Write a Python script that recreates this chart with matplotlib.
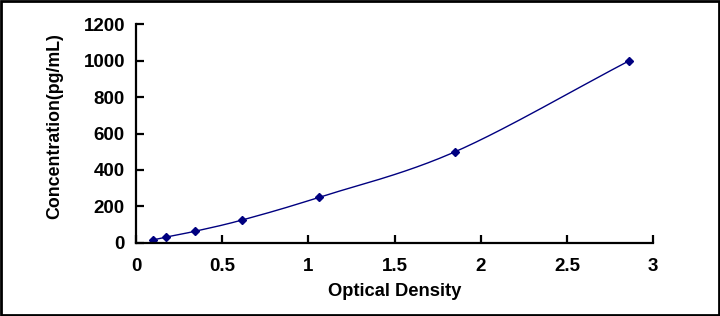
import numpy as np
import matplotlib
matplotlib.use("Agg")
import matplotlib.pyplot as plt

od = [0.10, 0.176, 0.34, 0.617, 1.064, 1.852, 2.862]
conc = [15.6, 31.25, 62.5, 125, 250, 500, 1000]

plt.rcParams['font.family'] = ['Liberation Sans', 'DejaVu Sans']

def catmull_rom(x, y, n=40):
    x = np.asarray(x, float); y = np.asarray(y, float)
    px = np.concatenate([[2*x[0]-x[1]], x, [2*x[-1]-x[-2]]])
    py = np.concatenate([[2*y[0]-y[1]], y, [2*y[-1]-y[-2]]])
    xs, ys = [], []
    t = np.linspace(0, 1, n)
    for i in range(1, len(px)-2):
        p0, p1, p2, p3 = [np.array([px[j], py[j]]) for j in range(i-1, i+3)]
        m1 = (p2 - p0) / 2
        m2 = (p3 - p1) / 2
        h00 = 2*t**3 - 3*t**2 + 1
        h10 = t**3 - 2*t**2 + t
        h01 = -2*t**3 + 3*t**2
        h11 = t**3 - t**2
        pts = (np.outer(h00, p1) + np.outer(h10, m1) + np.outer(h01, p2) + np.outer(h11, m2))
        xs.append(pts[:, 0]); ys.append(pts[:, 1])
    return np.concatenate(xs), np.concatenate(ys)

fig = plt.figure(figsize=(7.2, 3.16), dpi=100)
ax = fig.add_axes([0.189, 0.232, 0.718, 0.691])

cx, cy = catmull_rom(od, conc)
ax.plot(cx, cy, color='#000080', lw=1.0)
ax.plot(od, conc, linestyle='none', marker='D', markersize=4.5, color='#000080')

ax.set_xlim(0, 3)
ax.set_ylim(0, 1200)
ax.set_xticks([0, 0.5, 1, 1.5, 2, 2.5, 3])
ax.set_xticklabels(['0', '0.5', '1', '1.5', '2', '2.5', '3'])
ax.set_yticks([0, 200, 400, 600, 800, 1000, 1200])

for s in ['top', 'right']:
    ax.spines[s].set_visible(False)
for s in ['left', 'bottom']:
    ax.spines[s].set_linewidth(1.6)
    ax.spines[s].set_color('black')

ax.tick_params(direction='in', length=6, width=1.6, labelsize=13.5)
ax.tick_params(axis='x', pad=11)
ax.tick_params(axis='y', pad=8)
for lbl in ax.get_xticklabels() + ax.get_yticklabels():
    lbl.set_fontweight('bold')

ax.set_xlabel('Optical Density', fontsize=13.2, fontweight='bold', labelpad=6)
ax.set_ylabel('Concentration(pg/mL)', fontsize=12.8, fontweight='bold')
ax.yaxis.set_label_coords(-0.140, 0.534)

border = plt.Rectangle((0.002, 0.003), 0.996, 0.994, transform=fig.transFigure,
                       fill=False, edgecolor='black', linewidth=2)
fig.patches.append(border)

fig.savefig('out.png', dpi=100)
